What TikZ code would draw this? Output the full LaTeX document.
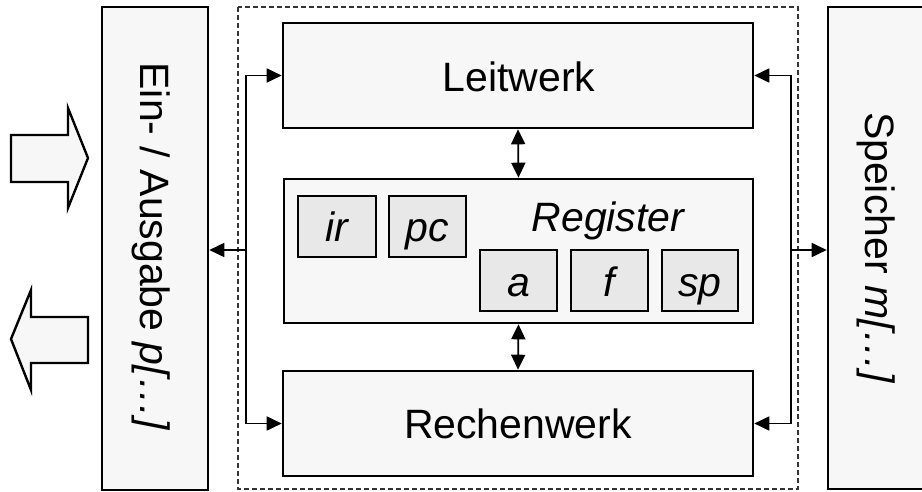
\documentclass[tikz,border=0pt]{standalone}
\usepackage{fontspec}
\setmainfont{Liberation Sans}
\usetikzlibrary{arrows.meta}
\definecolor{boxfill}{HTML}{F7F7F7}
\definecolor{regfill}{HTML}{E8E8E8}
\tikzset{
  unit/.style={draw, line width=2.6pt, fill=boxfill, inner sep=0pt},
  regbox/.style={draw, line width=2pt, fill=regfill, inner sep=0pt,
                 minimum height=61pt},
  lbl/.style={inner sep=0pt, anchor=base, font=\fontsize{41}{49}\selectfont},
  ilbl/.style={lbl, font=\fontsize{41}{49}\selectfont\itshape},
  conn/.style={line width=1.8pt},
  arr/.style={conn, -{Triangle[length=15pt,width=14pt]}},
  dbl/.style={conn, {Triangle[length=15pt,width=14pt]}-{Triangle[length=15pt,width=14pt]}},
  frame/.style={line width=1.2pt, dash pattern=on 5pt off 3pt, draw=black!80},
  bigarrow/.style={line width=2.4pt, fill=boxfill, line join=miter},
}
\begin{document}
\begin{tikzpicture}[x=1pt, y=-1pt]
\useasboundingbox (0,0) rectangle (922,492);

% surrounding processor frame
\draw[frame] (238,7) rectangle (798,489);

% outer units
\node[unit, minimum width=106pt, minimum height=483pt] (io) at (155,248.5) {};
\node[unit, minimum width=106pt, minimum height=482pt] (mem) at (881,248) {};
\node[lbl, rotate=-90] (iotext) at (140,246.5) {Ein- / Ausgabe \textit{p[…]}};
\node[lbl, rotate=-90] (memtext) at (865,248) {Speicher \textit{m[…]}};

% control unit, registers, arithmetic unit
\node[unit, minimum width=470pt, minimum height=105pt] (lw) at (518,75.5) {};
\node[unit, minimum width=469pt, minimum height=144pt] (reg) at (518.5,251) {};
\node[unit, minimum width=470pt, minimum height=105pt] (rw) at (518,423.5) {};
\node[lbl] (lwtext) at (519,92) {Leitwerk};
\node[lbl] (rwtext) at (518,438) {Rechenwerk};
\node[ilbl] (regtext) at (608,232) {Register};

% individual registers
\node[regbox, minimum width=78pt] (ir) at (337,226.5) {};
\node[regbox, minimum width=77pt] (pc) at (427.5,226.5) {};
\node[regbox, minimum width=77pt] (ra) at (518.5,280.5) {};
\node[regbox, minimum width=77pt] (rf) at (609.5,280.5) {};
\node[regbox, minimum width=76pt] (sp) at (700,280.5) {};
\node[ilbl] (irtext) at (ir |- 0,242) {ir};
\node[ilbl] (pctext) at (pc |- 0,242) {pc};
\node[ilbl] (ratext) at (ra |- 0,296) {a};
\node[ilbl] (rftext) at (rf |- 0,296) {f};
\node[ilbl] (sptext) at (sp |- 0,296) {sp};

% internal connections
\draw[dbl] (lw.south) -- (reg.north);
\draw[dbl] (reg.south) -- (rw.north);

% left bus to input/output
\coordinate (lbus) at (246,250);
\draw[conn] (lbus |- lw.west) -- (lbus |- rw.west);
\draw[arr] (lbus |- lw.west) -- (lw.west);
\draw[arr] (lbus |- rw.west) -- (rw.west);
\draw[arr] (lbus) -- (io.east |- lbus);

% right bus to memory
\coordinate (rbus) at (791,250);
\draw[conn] (rbus |- lw.east) -- (rbus |- rw.east);
\draw[arr] (rbus |- lw.east) -- (lw.east);
\draw[arr] (rbus |- rw.east) -- (rw.east);
\draw[arr] (rbus) -- (mem.west |- rbus);

% input and output arrows
\draw[bigarrow] (11,135) -- (68,135) -- (68,108) -- (88,158) -- (68,208)
  -- (68,182) -- (11,182) -- cycle;
\draw[bigarrow] (11,339) -- (31,290) -- (31,317) -- (88,317) -- (88,363)
  -- (31,363) -- (31,390) -- cycle;
\end{tikzpicture}
\end{document}
